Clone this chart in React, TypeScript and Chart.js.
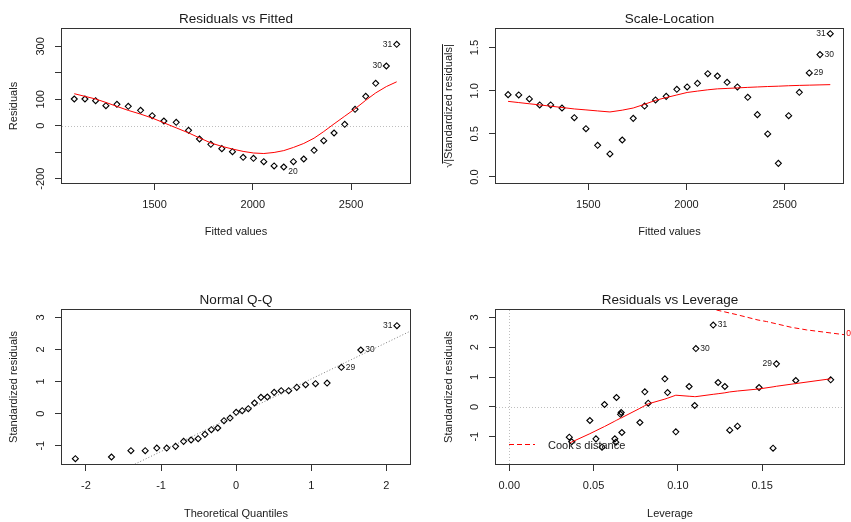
import React, { useEffect, useRef } from "react";
import { Chart, registerables } from "chart.js";

Chart.register(...registerables);

const FONT_FAMILY = "'Liberation Sans', Arial, Helvetica, sans-serif";
const INK = "#1a1a1a";
const RED = "#FF0000";

// ---------------- data ----------------
const fittedValues = [
  1091.5, 1145.8, 1200.0, 1252.5, 1308.5, 1366.1, 1428.8, 1488.1, 1547.5, 1610.2,
  1672.9, 1728.8, 1786.4, 1842.4, 1896.6, 1950.8, 2003.4, 2055.9, 2108.5, 2157.6,
  2206.8, 2259.3, 2311.9, 2361.0, 2413.6, 2467.8, 2520.3, 2574.6, 2625.4, 2679.7, 2732.2,
];
const residuals = [
  101, 101, 94.7, 75.8, 80.9, 73.3, 58.2, 38.0, 17.9, 12.8,
  -17.4, -50.1, -70.3, -86.6, -98.0, -119.4, -123.2, -135.8, -152.1, -155.9,
  -135.8, -125.7, -93.0, -56.4, -27.5, 5.3, 62.0, 111.1, 160.2, 225.7, 307.6,
];
const residualsSmooth = [
  121, 111, 101, 88, 73, 58, 44, 29, 11, -8,
  -27, -46, -65, -78, -88, -97, -103, -105, -101, -94,
  -82, -67, -47, -22, 7, 36, 64, 96, 124, 148, 166,
];
const sqrtAbsStdResiduals = [
  0.955, 0.951, 0.905, 0.835, 0.835, 0.8, 0.688, 0.56, 0.367, 0.267,
  0.429, 0.68, 0.823, 0.893, 0.935, 1.017, 1.044, 1.086, 1.198, 1.171,
  1.098, 1.044, 0.924, 0.723, 0.499, 0.158, 0.711, 0.982, 1.206, 1.419, 1.662,
];
const scaleLocationSmooth = [
  0.877, 0.863, 0.849, 0.836, 0.821, 0.806, 0.789, 0.778, 0.766, 0.754,
  0.775, 0.8, 0.843, 0.889, 0.921, 0.951, 0.98, 0.996, 1.011, 1.022,
  1.027, 1.033, 1.039, 1.044, 1.049, 1.053, 1.058, 1.062, 1.065, 1.068, 1.071,
];
const theoreticalQuantiles = [
  -2.141, -1.66, -1.401, -1.211, -1.057, -0.925, -0.807, -0.7, -0.6, -0.506,
  -0.416, -0.33, -0.245, -0.162, -0.081, 0, 0.081, 0.162, 0.245, 0.33,
  0.416, 0.506, 0.6, 0.7, 0.807, 0.925, 1.057, 1.211, 1.401, 1.66, 2.141,
];
const orderedStdResiduals = [
  -1.405, -1.353, -1.156, -1.156, -1.073, -1.073, -1.021, -0.865, -0.823, -0.782,
  -0.647, -0.501, -0.449, -0.221, -0.138, 0.039, 0.091, 0.153, 0.33, 0.506,
  0.517, 0.662, 0.714, 0.714, 0.818, 0.901, 0.933, 0.953, 1.442, 1.982, 2.74,
];
const qqLineX = [-2.32, 2.32];
const qqLineY = [-2.673, 2.571];
const leverageValues = [
  0.0356, 0.037, 0.0478, 0.0514, 0.055, 0.0565, 0.0626, 0.0632, 0.0636, 0.066,
  0.0664, 0.0668, 0.0775, 0.0804, 0.0824, 0.0923, 0.0939, 0.0988, 0.1067, 0.11,
  0.1107, 0.121, 0.1239, 0.1279, 0.1308, 0.1354, 0.1482, 0.1565, 0.1585, 0.17, 0.1907,
];
const leverageStdResiduals = [
  -1.017, -1.17, -0.458, -1.073, -1.354, 0.078, -1.073, -1.184, 0.313, -0.25,
  -0.19, -0.86, -0.525, 0.503, 0.123, 0.939, 0.48, -0.838, 0.682, 0.045,
  1.955, 2.74, 0.816, 0.682, -0.782, -0.648, 0.648, -1.385, 1.441, 0.883, 0.905,
];
const leverageSmooth = [
  -1.22, -1.18, -0.9, -0.8, -0.7, -0.66, -0.48, -0.46, -0.45, -0.38,
  -0.37, -0.36, -0.05, 0.04, 0.1, 0.26, 0.29, 0.39, 0.355, 0.342,
  0.342, 0.42, 0.44, 0.47, 0.5, 0.53, 0.6, 0.67, 0.69, 0.78, 0.94,
];
const cooksLeverage = [0.1229, 0.135, 0.1476, 0.1526, 0.1674, 0.1763, 0.1832, 0.1986, 0.21];
const cooksResidual = [3.246, 3.09, 2.91, 2.86, 2.665, 2.58, 2.53, 2.42, 2.33];
const cooksLegendText = "Cook's distance";
const cooksLevelText = "0.5";
const cooksLevelY = 2.44;

const fittedTicks = [1500, 2000, 2500];
const fittedTickLabels = ["1500", "2000", "2500"];
const residualTicks = [-200, -100, 0, 100, 200, 300];
const residualTickLabels = ["-200", "", "0", "100", "", "300"];
const sqrtTicks = [0, 0.5, 1, 1.5];
const sqrtTickLabels = ["0.0", "0.5", "1.0", "1.5"];
const quantileTicks = [-2, -1, 0, 1, 2];
const quantileTickLabels = ["-2", "-1", "0", "1", "2"];
const stdTicks = [-1, 0, 1, 2, 3];
const stdTickLabels = ["-1", "0", "1", "2", "3"];
const leverageTicks = [0, 0.05, 0.1, 0.15];
const leverageTickLabels = ["0.00", "0.05", "0.10", "0.15"];

// ---------------- helpers ----------------
type PointLabel = { ds: number; idx: number; text: string; side: "left" | "right"; dy?: number };

interface Panel {
  key: string;
  left: number; top: number; width: number; height: number;
  box: { l: number; t: number; r: number; b: number };
  titleY: number; xTitleY: number; yTitleX: number; yLabelPad: number;
  title: string; xTitle: string; yTitle: string;
  xRange: [number, number]; yRange: [number, number];
  xTicks: number[]; xTickLabels: string[]; yTicks: number[]; yTickLabels: string[];
  datasets: any[];
  labels: PointLabel[];
  hLines: number[]; vLines: number[];
  cooks?: boolean;
  sqrtBar?: boolean;
}

const pts = (xs: number[], ys: number[]) => xs.map((x, i) => ({ x, y: ys[i] }));

const pointDataset = (xs: number[], ys: number[]) => ({
  data: pts(xs, ys),
  showLine: false,
  pointStyle: "rectRot",
  pointRadius: 3,
  pointHoverRadius: 3,
  pointBorderWidth: 1.1,
  pointBorderColor: "#000",
  pointBackgroundColor: "rgba(0,0,0,0)",
  borderColor: "#000",
  backgroundColor: "rgba(0,0,0,0)",
  order: 1,
});

const lineDataset = (xs: number[], ys: number[], color: string, dash: number[] = []) => ({
  data: pts(xs, ys),
  showLine: true,
  pointRadius: 0,
  pointHoverRadius: 0,
  borderColor: color,
  backgroundColor: color,
  borderWidth: 1,
  borderDash: dash,
  fill: false,
  tension: 0,
  order: 0,
});

const panels: Panel[] = [
  {
    key: "rvf", left: 0, top: 0, width: 425, height: 261,
    box: { l: 62, t: 29, r: 410, b: 183 },
    titleY: 19, xTitleY: 232, yTitleX: 14.3, yLabelPad: 3,
    title: "Residuals vs Fitted", xTitle: "Fitted values", yTitle: "Residuals",
    xRange: [1029, 2800], yRange: [-216.4, 365.5],
    xTicks: fittedTicks, xTickLabels: fittedTickLabels,
    yTicks: residualTicks, yTickLabels: residualTickLabels,
    datasets: [pointDataset(fittedValues, residuals), lineDataset(fittedValues, residualsSmooth, RED)],
    labels: [
      { ds: 0, idx: 30, text: "31", side: "left" },
      { ds: 0, idx: 29, text: "30", side: "left" },
      { ds: 0, idx: 19, text: "20", side: "right", dy: 5 },
    ],
    hLines: [0], vLines: [],
  },
  {
    key: "sl", left: 425, top: 0, width: 426, height: 261,
    box: { l: 71, t: 29, r: 418, b: 183 },
    titleY: 19, xTitleY: 232, yTitleX: 24, yLabelPad: 6.35,
    title: "Scale-Location", xTitle: "Fitted values", yTitle: "√|Standardized residuals|",
    xRange: [1030, 2797], yRange: [-0.0696, 1.716],
    xTicks: fittedTicks, xTickLabels: fittedTickLabels,
    yTicks: sqrtTicks, yTickLabels: sqrtTickLabels,
    datasets: [pointDataset(fittedValues, sqrtAbsStdResiduals), lineDataset(fittedValues, scaleLocationSmooth, RED)],
    labels: [
      { ds: 0, idx: 30, text: "31", side: "left" },
      { ds: 0, idx: 29, text: "30", side: "right" },
      { ds: 0, idx: 28, text: "29", side: "right" },
    ],
    hLines: [], vLines: [], sqrtBar: true,
  },
  {
    key: "qq", left: 0, top: 261, width: 425, height: 261,
    box: { l: 62, t: 49, r: 410, b: 203 },
    titleY: 39, xTitleY: 253, yTitleX: 14.2, yLabelPad: 9.1,
    title: "Normal Q-Q", xTitle: "Theoretical Quantiles", yTitle: "Standardized residuals",
    xRange: [-2.319, 2.315], yRange: [-1.571, 3.229],
    xTicks: quantileTicks, xTickLabels: quantileTickLabels,
    yTicks: stdTicks, yTickLabels: stdTickLabels,
    datasets: [pointDataset(theoreticalQuantiles, orderedStdResiduals), lineDataset(qqLineX, qqLineY, "#7F7F7F", [1, 2])],
    labels: [
      { ds: 0, idx: 30, text: "31", side: "left" },
      { ds: 0, idx: 29, text: "30", side: "right" },
      { ds: 0, idx: 28, text: "29", side: "right" },
    ],
    hLines: [], vLines: [],
  },
  {
    key: "rvl", left: 425, top: 261, width: 426, height: 261,
    box: { l: 71, t: 49, r: 419, b: 203 },
    titleY: 39, xTitleY: 253, yTitleX: 23.7, yLabelPad: 9.1,
    title: "Residuals vs Leverage", xTitle: "Leverage", yTitle: "Standardized residuals",
    xRange: [-0.0079, 0.1986], yRange: [-1.916, 3.246],
    xTicks: leverageTicks, xTickLabels: leverageTickLabels,
    yTicks: stdTicks, yTickLabels: stdTickLabels,
    datasets: [
      pointDataset(leverageValues, leverageStdResiduals),
      lineDataset(leverageValues, leverageSmooth, RED),
      lineDataset(cooksLeverage, cooksResidual, RED, [5, 3]),
    ],
    labels: [
      { ds: 0, idx: 21, text: "31", side: "right" },
      { ds: 0, idx: 20, text: "30", side: "right" },
      { ds: 0, idx: 28, text: "29", side: "left" },
    ],
    hLines: [0], vLines: [0], cooks: true,
  },
];

function decorPlugin(p: Panel) {
  return {
    id: "decor_" + p.key,
    beforeDatasetsDraw(chart: any) {
      const { ctx, chartArea: a, scales } = chart;
      ctx.save();
      ctx.beginPath();
      ctx.rect(a.left, a.top, a.right - a.left, a.bottom - a.top);
      ctx.clip();
      ctx.strokeStyle = "#BEBEBE";
      ctx.lineWidth = 1;
      ctx.setLineDash([1, 2]);
      p.hLines.forEach((v) => {
        const y = Math.round(scales.y.getPixelForValue(v)) + 0.5;
        ctx.beginPath();
        ctx.moveTo(a.left, y);
        ctx.lineTo(a.right, y);
        ctx.stroke();
      });
      p.vLines.forEach((v) => {
        const x = Math.round(scales.x.getPixelForValue(v)) + 0.5;
        ctx.beginPath();
        ctx.moveTo(x, a.top);
        ctx.lineTo(x, a.bottom);
        ctx.stroke();
      });
      ctx.restore();
    },
    afterDatasetsDraw(chart: any) {
      const { ctx, chartArea: a, scales } = chart;
      ctx.save();
      ctx.setLineDash([]);
      ctx.strokeStyle = "#333";
      ctx.lineWidth = 1;
      ctx.strokeRect(a.left - 0.5, a.top - 0.5, a.right - a.left + 1, a.bottom - a.top + 1);

      ctx.fillStyle = INK;
      ctx.font = `8.5px ${FONT_FAMILY}`;
      ctx.textBaseline = "middle";
      p.labels.forEach((l) => {
        const el = chart.getDatasetMeta(l.ds).data[l.idx];
        if (!el) return;
        const right = l.side === "right";
        ctx.textAlign = right ? "left" : "right";
        ctx.fillText(l.text, el.x + (right ? 4.5 : -4.5), el.y + (l.dy || 0));
      });

      if (p.cooks) {
        const ly = Math.round(a.bottom - 20.5) + 0.5;
        ctx.strokeStyle = RED;
        ctx.setLineDash([5, 3]);
        ctx.beginPath();
        ctx.moveTo(a.left + 13, ly);
        ctx.lineTo(a.left + 39, ly);
        ctx.stroke();
        ctx.setLineDash([]);
        ctx.fillStyle = INK;
        ctx.font = `11px ${FONT_FAMILY}`;
        ctx.textAlign = "left";
        ctx.fillText(cooksLegendText, a.left + 52, a.bottom - 18);
        ctx.fillStyle = RED;
        ctx.font = `8.5px ${FONT_FAMILY}`;
        ctx.fillText(cooksLevelText, a.right + 2.3, scales.y.getPixelForValue(cooksLevelY));
      }

      if (p.sqrtBar) {
        ctx.font = `11px ${FONT_FAMILY}`;
        const full = ctx.measureText(p.yTitle).width;
        const rad = ctx.measureText("√").width;
        const cy = (a.top + a.bottom) / 2;
        const x = Math.round(p.yTitleX - 7.5) + 0.5;
        ctx.strokeStyle = INK;
        ctx.beginPath();
        ctx.moveTo(x, cy - full / 2);
        ctx.lineTo(x, cy + full / 2 - rad * 0.7);
        ctx.stroke();
      }
      ctx.restore();
    },
  };
}

function buildConfig(p: Panel) {
  const tickFont = { family: FONT_FAMILY, size: 11 };
  return {
    type: "scatter",
    data: { datasets: p.datasets },
    options: {
      responsive: false,
      maintainAspectRatio: false,
      animation: false,
      events: [],
      layout: { padding: { left: 0, top: 0, bottom: 0, right: p.width - p.box.r } },
      plugins: {
        legend: { display: false },
        tooltip: { enabled: false },
        title: {
          display: true,
          text: p.title,
          fullSize: false,
          align: "center",
          color: INK,
          font: { family: FONT_FAMILY, size: 13.5, weight: "normal", lineHeight: 1.2 },
          padding: { top: p.titleY - 8.1, bottom: p.box.t - (p.titleY - 8.1) - 16.2 },
        },
      },
      scales: {
        x: {
          type: "linear",
          position: "bottom",
          min: p.xRange[0],
          max: p.xRange[1],
          afterBuildTicks: (s: any) => {
            s.ticks = p.xTicks.map((v) => ({ value: v }));
          },
          afterFit: (s: any) => {
            s.height = p.height - p.box.b;
          },
          ticks: {
            autoSkip: false,
            maxRotation: 0,
            minRotation: 0,
            padding: 7.9,
            color: INK,
            font: tickFont,
            callback: (_v: any, i: number) => p.xTickLabels[i] ?? "",
          },
          grid: { drawOnChartArea: false, drawTicks: true, tickLength: 7, color: "#333", lineWidth: 1 },
          border: { display: false },
          title: {
            display: true,
            text: p.xTitle,
            color: INK,
            font: tickFont,
            padding: { top: 0, bottom: p.height - p.xTitleY - 6.6 },
          },
        },
        y: {
          type: "linear",
          position: "left",
          min: p.yRange[0],
          max: p.yRange[1],
          afterBuildTicks: (s: any) => {
            s.ticks = p.yTicks.map((v) => ({ value: v }));
          },
          afterFit: (s: any) => {
            s.width = p.box.l;
          },
          ticks: {
            autoSkip: false,
            minRotation: 90,
            maxRotation: 90,
            crossAlign: "center",
            padding: p.yLabelPad,
            color: INK,
            font: tickFont,
            callback: (_v: any, i: number) => p.yTickLabels[i] ?? "",
          },
          grid: { drawOnChartArea: false, drawTicks: true, tickLength: 7, color: "#333", lineWidth: 1 },
          border: { display: false },
          title: {
            display: true,
            text: p.yTitle,
            color: INK,
            font: tickFont,
            padding: { top: p.yTitleX - 6.6, bottom: 0 },
          },
        },
      },
    },
    plugins: [decorPlugin(p)],
  };
}

function PanelChart({ p }: { p: Panel }) {
  const ref = useRef<HTMLCanvasElement | null>(null);
  useEffect(() => {
    if (!ref.current) return;
    const chart = new Chart(ref.current, buildConfig(p) as any);
    return () => chart.destroy();
  }, [p]);
  return (
    <canvas
      ref={ref}
      width={p.width}
      height={p.height}
      style={{ position: "absolute", left: p.left, top: p.top, width: p.width, height: p.height }}
    />
  );
}

export default function App() {
  return (
    <div
      style={{
        position: "fixed",
        left: 0,
        top: 0,
        width: 851,
        height: 522,
        background: "#ffffff",
        overflow: "hidden",
      }}
    >
      {panels.map((p) => (
        <PanelChart key={p.key} p={p} />
      ))}
    </div>
  );
}
